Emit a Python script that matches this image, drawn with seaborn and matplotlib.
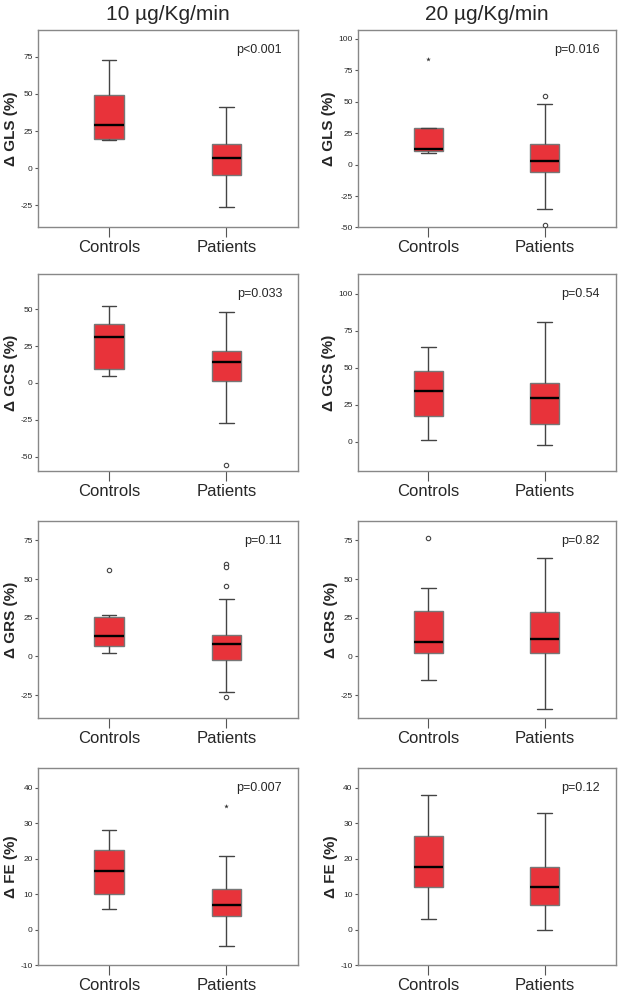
import pandas as pd
import matplotlib.pyplot as plt
import seaborn as sns

# groups and panel labels
groups = ["Controls", "Patients"]
doses = ["10 µg/Kg/min", "20 µg/Kg/min"]
measures = ["GLS", "GCS", "GRS", "FE"]
p_values = [["p<0.001", "p=0.016"],
            ["p=0.033", "p=0.54"],
            ["p=0.11", "p=0.82"],
            ["p=0.007", "p=0.12"]]

# five-number summaries: [low whisker, Q1, median, Q3, high whisker]
gls10_ctrl = [19, 19.5, 29, 49, 73]
gls10_pat = [-26, -4.5, 6.5, 16.5, 41]
gls20_ctrl = [9.5, 11, 12.5, 29, 29.5]
gls20_pat = [-35.5, -5.5, 2.5, 16.5, 48.5]
gcs10_ctrl = [5, 9.5, 31, 40, 52]
gcs10_pat = [-27.5, 1, 14.5, 22, 48]
gcs20_ctrl = [1.5, 17.5, 34, 48, 64]
gcs20_pat = [-2, 12, 29.5, 40, 81]
grs10_ctrl = [2.5, 6.5, 13.5, 25.5, 27]
grs10_pat = [-23, -2, 8, 14, 37]
grs20_ctrl = [-15.5, 2.5, 9, 29.5, 44]
grs20_pat = [-34, 2, 11.5, 29, 63.5]
fe10_ctrl = [6, 10, 16.5, 22.5, 28]
fe10_pat = [-4.5, 4, 7, 11.5, 20.8]
fe20_ctrl = [3, 12.2, 17.7, 26.5, 38]
fe20_pat = [0, 7, 12.2, 17.6, 32.8]

# outliers (circles) and extremes (stars): (group, value)
gls20_circles = [("Patients", 54.5), ("Patients", -48)]
gls20_stars = [("Controls", 84)]
gcs10_circles = [("Patients", -56)]
grs10_circles = [("Controls", 56), ("Patients", 60), ("Patients", 57.5),
                 ("Patients", 45.5), ("Patients", -26)]
grs20_circles = [("Controls", 76.5)]
fe10_stars = [("Patients", 35)]

boxes = [[(gls10_ctrl, gls10_pat), (gls20_ctrl, gls20_pat)],
         [(gcs10_ctrl, gcs10_pat), (gcs20_ctrl, gcs20_pat)],
         [(grs10_ctrl, grs10_pat), (grs20_ctrl, grs20_pat)],
         [(fe10_ctrl, fe10_pat), (fe20_ctrl, fe20_pat)]]
circles = [[[], gls20_circles], [gcs10_circles, []], [grs10_circles, grs20_circles], [[], []]]
stars = [[[], gls20_stars], [[], []], [[], []], [fe10_stars, []]]

ylims = [[(-40, 93), (-50, 107)],
         [(-60, 74), (-20, 113.5)],
         [(-40, 87.5), (-40, 87.5)],
         [(-10, 45.6), (-10, 45.6)]]
yticks = [[[-25, 0, 25, 50, 75], [-50, -25, 0, 25, 50, 75, 100]],
          [[-50, -25, 0, 25, 50], [0, 25, 50, 75, 100]],
          [[-25, 0, 25, 50, 75], [-25, 0, 25, 50, 75]],
          [[-10, 0, 10, 20, 30, 40], [-10, 0, 10, 20, 30, 40]]]

sns.set_theme(style="white")
plt.rcParams['font.family'] = ['Liberation Sans', 'DejaVu Sans']

fig = plt.figure(figsize=(6.18, 9.92), dpi=100)
lefts = [0.061, 0.5785]
widths = [0.4207, 0.4175]
bottoms = [0.7707, 0.5249, 0.2759, 0.0269]
height = 0.1989

box_color = "#E8333A"
line_color = "#444444"

for r in range(4):
    for c in range(2):
        ax = fig.add_axes([lefts[c], bottoms[r], widths[c], height])
        ctrl, pat = boxes[r][c]
        df = pd.DataFrame({"group": ["Controls"] * len(ctrl) + ["Patients"] * len(pat),
                           "value": ctrl + pat})
        sns.boxplot(data=df, x="group", y="value", order=groups, ax=ax,
                    whis=(0, 100), width=0.25, color=box_color, saturation=1,
                    linecolor=line_color, linewidth=1.0, showfliers=False,
                    medianprops={"color": "black", "linewidth": 1.7},
                    boxprops={"edgecolor": "#777777"})
        if circles[r][c]:
            cdf = pd.DataFrame(circles[r][c], columns=["group", "value"])
            sns.scatterplot(data=cdf, x="group", y="value", ax=ax, marker="o",
                            s=10, facecolor="white", edgecolor="#444444",
                            linewidth=0.8, zorder=5)
        if stars[r][c]:
            sdf = pd.DataFrame(stars[r][c], columns=["group", "value"])
            sns.scatterplot(data=sdf, x="group", y="value", ax=ax, marker="*",
                            s=12, color="#333333", linewidth=0, zorder=5)
        ax.set_xlim(-0.61, 1.61)
        ax.set_ylim(*ylims[r][c])
        ax.set_yticks(yticks[r][c])
        ax.set_yticklabels([str(t) for t in yticks[r][c]], fontsize=6)
        ax.set_xticks([0, 1])
        ax.set_xticklabels(groups, fontsize=12)
        ax.set_xlabel("")
        ax.set_ylabel("Δ " + measures[r] + " (%)", fontsize=11, fontweight="bold",
                      labelpad=2)
        ax.tick_params(axis="y", left=True, length=2.5, width=0.8, pad=1,
                       color="#555555")
        ax.tick_params(axis="x", bottom=True, length=7, width=0.8, pad=2,
                       color="#555555")
        for sp in ax.spines.values():
            sp.set_color("#888888")
            sp.set_linewidth(1.0)
        ax.text(0.94, 0.93, p_values[r][c], transform=ax.transAxes,
                ha="right", va="top", fontsize=9)
        if r == 0:
            ax.set_title(doses[c], fontsize=15, pad=7)

plt.savefig("out.png", dpi=100)
